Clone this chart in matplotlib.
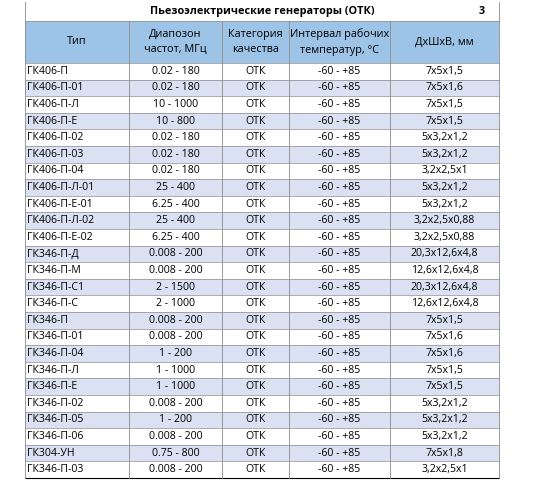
import matplotlib
matplotlib.use("Agg")
import matplotlib.pyplot as plt
from matplotlib.patches import Rectangle

# ── Data ──────────────────────────────────────────────────────────────────────
title = "Пьезоэлектрические генераторы (ОТК)"
page_no = "3"
headers = ["Тип", "Диапозон\nчастот, МГц", "Категория\nкачества",
           "Интервал рабочих\nтемператур, °С", "ДхШхВ, мм"]

types = ["ГК406-П", "ГК406-П-01", "ГК406-П-Л", "ГК406-П-Е", "ГК406-П-02",
         "ГК406-П-03", "ГК406-П-04", "ГК406-П-Л-01", "ГК406-П-Е-01",
         "ГК406-П-Л-02", "ГК406-П-Е-02", "ГК346-П-Д", "ГК346-П-М",
         "ГК346-П-С1", "ГК346-П-С", "ГК346-П", "ГК346-П-01", "ГК346-П-04",
         "ГК346-П-Л", "ГК346-П-Е", "ГК346-П-02", "ГК346-П-05", "ГК346-П-06",
         "ГК304-УН", "ГК346-П-03"]
freqs = ["0.02 - 180", "0.02 - 180", "10 - 1000", "10 - 800", "0.02 - 180",
         "0.02 - 180", "0.02 - 180", "25 - 400", "6.25 - 400", "25 - 400",
         "6.25 - 400", "0.008 - 200", "0.008 - 200", "2 - 1500", "2 - 1000",
         "0.008 - 200", "0.008 - 200", "1 - 200", "1 - 1000", "1 - 1000",
         "0.008 - 200", "1 - 200", "0.008 - 200", "0.75 - 800", "0.008 - 200"]
quality = ["ОТК"] * len(types)
temps = ["-60 - +85"] * len(types)
sizes = ["7x5x1,5", "7x5x1,6", "7x5x1,5", "7x5x1,5", "5x3,2x1,2",
         "5x3,2x1,2", "3,2x2,5x1", "5x3,2x1,2", "5x3,2x1,2", "3,2x2,5x0,88",
         "3,2x2,5x0,88", "20,3x12,6x4,8", "12,6x12,6x4,8", "20,3x12,6x4,8",
         "12,6x12,6x4,8", "7x5x1,5", "7x5x1,6", "7x5x1,6", "7x5x1,5",
         "7x5x1,5", "5x3,2x1,2", "5x3,2x1,2", "5x3,2x1,2", "7x5x1,8",
         "3,2x2,5x1"]

# ── Layout (pixels) ───────────────────────────────────────────────────────────
col_x = [25, 129, 222, 289, 390, 499]
title_top, head_top, body_top, row_h = 2, 21, 63, 16.6
HEAD_BLUE = "#9DC3E6"
STRIPE = "#D9E1F2"
GRID = "#8c8c8c"

plt.rcParams["font.family"] = ["Open Sans", "DejaVu Sans"]
fig = plt.figure(figsize=(5.4, 4.8), dpi=100)
ax = fig.add_axes([0, 0, 1, 1])
ax.set_xlim(0, 540)
ax.set_ylim(480, 0)
ax.axis("off")

# title
ax.text((col_x[0] + col_x[-1]) / 2, 11.5, title, ha="center", va="center",
        fontsize=7.8, fontweight="bold")
ax.text(482, 11.5, page_no, ha="center", va="center", fontsize=7.8, fontweight="bold")

# header
ax.add_patch(Rectangle((col_x[0], head_top), col_x[-1] - col_x[0],
                       body_top - head_top, facecolor=HEAD_BLUE, edgecolor="none"))
for i, h in enumerate(headers):
    ax.text((col_x[i] + col_x[i + 1]) / 2, (head_top + body_top) / 2, h,
            ha="center", va="center", fontsize=7.8, linespacing=1.6)

# body
rows = list(zip(types, freqs, quality, temps, sizes))
for r, row in enumerate(rows):
    y0 = body_top + r * row_h
    if r % 2 == 1:
        ax.add_patch(Rectangle((col_x[0], y0), col_x[-1] - col_x[0], row_h,
                               facecolor=STRIPE, edgecolor="none"))
    ax.plot([col_x[0], col_x[-1]], [y0, y0], color=GRID, lw=0.5)
    for c, val in enumerate(row):
        if c == 0:
            ax.text(col_x[0] + 2, y0 + row_h / 2, val, ha="left", va="center",
                    fontsize=7.6)
        else:
            ax.text((col_x[c] + col_x[c + 1]) / 2, y0 + row_h / 2, val,
                    ha="center", va="center", fontsize=7.6)

bottom = body_top + len(rows) * row_h
ax.plot([col_x[0], col_x[-1]], [bottom, bottom], color="black", lw=0.8)
ax.plot([col_x[0], col_x[-1]], [head_top, head_top], color=GRID, lw=0.5)
for x in col_x:
    ax.plot([x, x], [head_top, bottom], color=GRID, lw=0.6)
ax.plot([col_x[0], col_x[0]], [title_top, head_top], color=GRID, lw=0.6)
ax.plot([col_x[-1], col_x[-1]], [title_top, head_top], color=GRID, lw=0.6)

fig.savefig("out.png", dpi=100)
